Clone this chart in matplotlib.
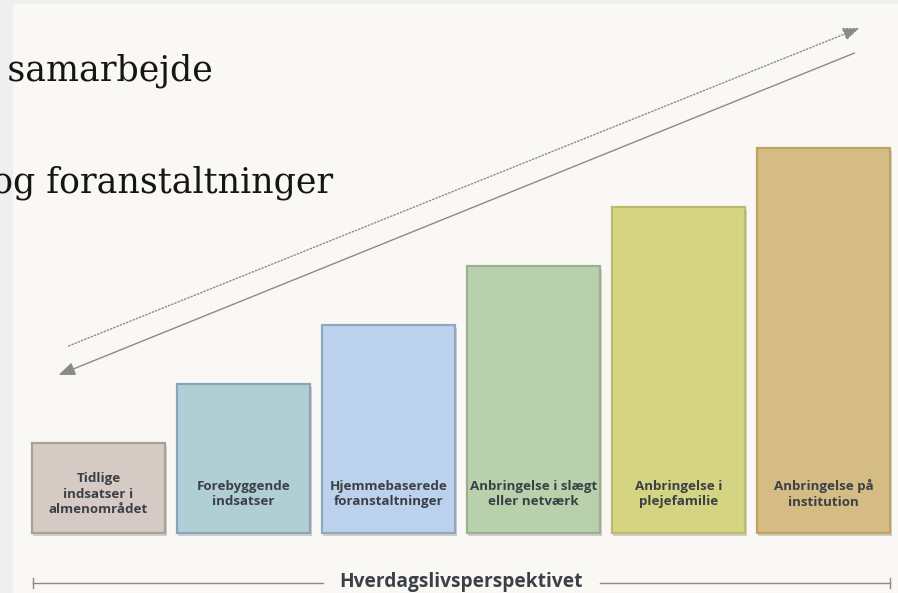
import numpy as np
import matplotlib.pyplot as plt
from matplotlib.patches import Rectangle

# Niveauer i trappen (relativ højde for hver indsats)
labels = ["Tidlige\nindsatser i\nalmenområdet", "Forebyggende\nindsatser",
          "Hjemmebaserede\nforanstaltninger", "Anbringelse i slægt\neller netværk",
          "Anbringelse i\nplejefamilie", "Anbringelse på\ninstitution"]
levels = [90, 149, 208, 267, 326, 385]
fills = ["#d6cbc4", "#b0cfd5", "#bcd1eb", "#b9d0ad", "#d5d482", "#d4bc84"]
edges = ["#a8a09b", "#8aa3bb", "#8fa8bf", "#9bb08f", "#bdb96d", "#c2a161"]
axis_title = "Hverdagslivsperspektivet"
heading1 = "Tværfagligt samarbejde"
heading2 = "Indsatser og foranstaltninger"

W, H = 898, 593
fig = plt.figure(figsize=(W / 100, H / 100), dpi=100, facecolor="#eef0f0")
ax = fig.add_axes([0, 0, 1, 1])
ax.set_xlim(-98.5 / 145, (W - 98.5) / 145)
ax.set_ylim(0, H)
ax.axis("off")

# pixel position (from top-left) -> data coords
def fpx(xp, yp):
    return (xp - 98.5) / 145, H - yp

# background panel
x0, y0 = fpx(13, H)
ax.add_patch(Rectangle((x0, y0), 10, H - 4, facecolor="#faf8f5",
                       edgecolor="none", zorder=0))

x = np.arange(len(levels))
base = 60
# shadow
ax.bar(x + 0.01, levels, width=0.924, bottom=base - 3, color="#b8b4ae", alpha=0.6,
       edgecolor="none", zorder=1)
ax.bar(x, levels, width=0.924, bottom=base, color=fills, edgecolor=edges,
       linewidth=1.6, zorder=2)

for xi, lab in zip(x, labels):
    ax.text(xi, H - 494, lab, ha="center", va="center", fontsize=9.6,
            fontweight="bold", family="Open Sans", color="#3b4046",
            linespacing=1.25, zorder=3)

# bottom axis line
ax.plot([fpx(33, 0)[0], fpx(323, 0)[0]], [10, 10], color="#8a8a8a", lw=1)
ax.plot([fpx(600, 0)[0], fpx(890, 0)[0]], [10, 10], color="#8a8a8a", lw=1)
for xt in [fpx(33, 0)[0], fpx(890, 0)[0]]:
    ax.plot([xt, xt], [5, 15], color="#8a8a8a", lw=1)
ax.text(fpx(461, 0)[0], 11, axis_title, ha="center", va="center", fontsize=13.8,
        fontweight="bold", family="Open Sans", color="#3b4046")

# arrows
ax.annotate("", xy=fpx(56, 376), xytext=fpx(857, 52),
            arrowprops=dict(arrowstyle="-|>,head_length=1.0,head_width=0.4",
                            color="#8a8a8a", lw=1))
ax.annotate("", xy=fpx(862, 27), xytext=fpx(66, 347),
            arrowprops=dict(arrowstyle="-|>,head_length=1.0,head_width=0.4",
                            color="#8a8a8a", lw=1, linestyle=(0, (1, 1.5))))

# headings cut by the left edge
ax.text(*fpx(213, 80), heading1, ha="right", va="baseline", fontsize=25,
        family="DejaVu Serif", color="#151515")
ax.text(*fpx(333, 193), heading2, ha="right", va="baseline", fontsize=25,
        family="DejaVu Serif", color="#151515")

fig.savefig("out.png", dpi=100, facecolor=fig.get_facecolor())
